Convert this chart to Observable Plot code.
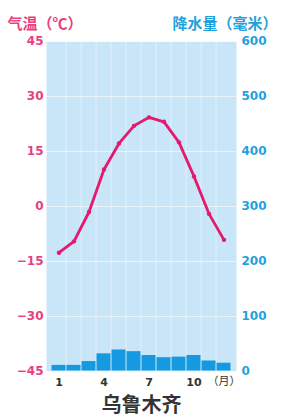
<!DOCTYPE html>
<html>
<head>
<meta charset="utf-8">
<script src="https://cdn.jsdelivr.net/npm/d3@7"></script>
<script src="https://cdn.jsdelivr.net/npm/@observablehq/plot@0.6"></script>
<style>
  html, body { margin: 0; padding: 0; background: #fff; }
  #chart svg { display: block; }
</style>
</head>
<body>
<div id="chart"></div>
<script>
const months = [1, 2, 3, 4, 5, 6, 7, 8, 9, 10, 11, 12];
const temperature = [-12.6, -9.5, -1.5, 10.1, 17.2, 22.0, 24.3, 23.1, 17.5, 8.2, -2.0, -9.1];
const precipitation = [12, 12, 19, 33, 40, 37, 30, 26, 27, 30, 20, 16];
const tempTicks = [-45, -30, -15, 0, 15, 30, 45];
const precipTicks = [0, 100, 200, 300, 400, 500, 600];
const monthTicks = [1, 4, 7, 10];
const title = "乌鲁木齐";
const tempLabel = "气温（℃）";
const precipLabel = "降水量（毫米）";
const monthUnit = "（月）";

const pink = "#e8407e";
const line = "#e31a6d";
const blue = "#1fa2dc";
const bg = "#c8e6f8";
const barColor = "#1599e0";

// precipitation 0..600 mapped onto temperature axis -45..45
const toT = p => -45 + p * 90 / 600;
const rows = months.map((m, i) => ({month: m, t: temperature[i], p: precipitation[i]}));

const chart = Plot.plot({
  width: 281,
  height: 418,
  marginTop: 41,
  marginBottom: 47,
  marginLeft: 46,
  marginRight: 45,
  style: {fontFamily: "'DejaVu Sans', sans-serif", background: "#fff", overflow: "visible"},
  x: {type: "band", domain: months, padding: 0, axis: null},
  y: {domain: [-45, 45], axis: null},
  marks: [
    Plot.frame({fill: bg, stroke: null}),
    Plot.gridY(tempTicks, {stroke: "#fff", strokeOpacity: 0.6}),
    Plot.ruleX(months.slice(1), {x: d => d, dx: -7.9, stroke: "#fff", strokeOpacity: 0.45}),
    Plot.barY(rows, {x: "month", y1: -45, y2: d => toT(d.p), fill: barColor, inset: 0.5}),
    Plot.line(rows, {x: "month", y: "t", stroke: line, strokeWidth: 2.8}),
    Plot.dot(rows, {x: "month", y: "t", r: 2.2, fill: line}),
    Plot.axisY(tempTicks, {anchor: "left", tickSize: 0, tickPadding: 3, label: null,
      fill: pink, fontWeight: "bold", fontSize: 12, letterSpacing: 0.5}),
    Plot.text(precipTicks, {y: p => toT(p), text: p => String(p), frameAnchor: "right",
      textAnchor: "start", dx: 5, fill: blue, fontWeight: "bold", fontSize: 12, letterSpacing: 0.5}),
    Plot.axisX(monthTicks, {anchor: "bottom", tickSize: 0, tickPadding: 7, label: null,
      fill: "#333", fontWeight: "bold", fontSize: 11}),
    Plot.text([monthUnit], {frameAnchor: "bottom-right", textAnchor: "end", dx: 4, dy: 13,
      fill: "#333", fontSize: 11, fontFamily: "'Noto Sans CJK SC'"}),
    Plot.text([tempLabel], {frameAnchor: "top-left", textAnchor: "start", dx: -39, dy: -23,
      fill: pink, fontWeight: "bold", fontSize: 15, fontFamily: "'Noto Sans CJK SC'"}),
    Plot.text([precipLabel], {frameAnchor: "top-right", textAnchor: "start", dx: -64, dy: -23,
      fill: blue, fontWeight: "bold", fontSize: 15, fontFamily: "'Noto Sans CJK SC'"}),
    Plot.text([title], {frameAnchor: "bottom", dy: 40, fill: "#333", fontSize: 20,
      fontWeight: "bold", fontFamily: "'Noto Sans CJK SC'"})
  ]
});
document.getElementById("chart").appendChild(chart);
</script>
</body>
</html>
